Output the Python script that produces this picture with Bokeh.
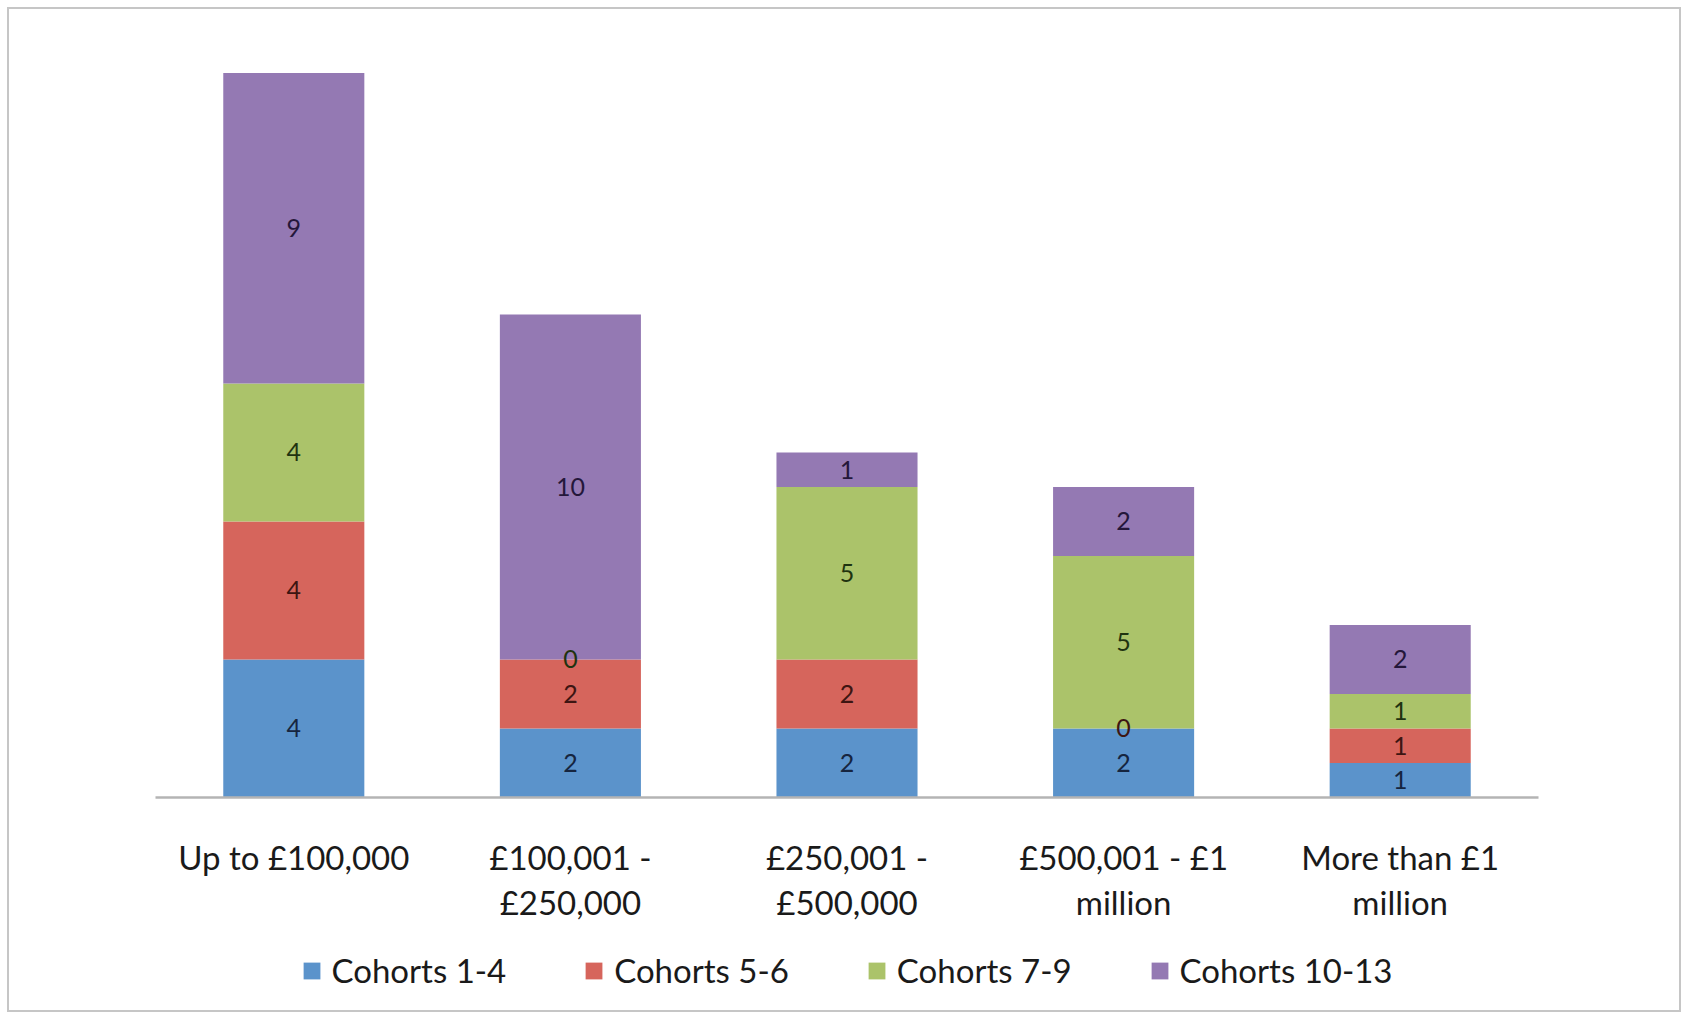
from bokeh.plotting import figure
from bokeh.layouts import column
from bokeh.models import ColumnDataSource, FactorRange, Range1d, Legend, LegendItem
from bokeh.core.properties import value
from bokeh.embed import file_html
from bokeh.resources import INLINE

categories = ["Up to £100,000", "£100,001 -\n£250,000", "£250,001 -\n£500,000",
              "£500,001 - £1\nmillion", "More than £1\nmillion"]
series = ["Cohorts 1-4", "Cohorts 5-6", "Cohorts 7-9", "Cohorts 10-13"]
cohorts_1_4 = [4, 2, 2, 2, 1]
cohorts_5_6 = [4, 2, 2, 0, 1]
cohorts_7_9 = [4, 0, 5, 5, 1]
cohorts_10_13 = [9, 10, 1, 2, 2]

colors = ["#5b93cb", "#d6655c", "#abc36a", "#9479b3"]
label_colors = ["#16253f", "#3d1512", "#1f3310", "#24173a"]
FONT = "Lato"

values = [cohorts_1_4, cohorts_5_6, cohorts_7_9, cohorts_10_13]
data = {"cat": categories}
for name, vals in zip(series, values):
    data[name] = vals
source = ColumnDataSource(data)

# ---- main chart ----
p = figure(x_range=FactorRange(*categories, range_padding=0),
           y_range=Range1d(0, 21.94),
           frame_width=1383, frame_height=757,
           min_border_left=146, min_border_right=141,
           min_border_top=31, min_border_bottom=133,
           output_backend="svg", toolbar_location=None,
           y_axis_location=None)
p.outline_line_color = None
p.grid.visible = False
p.background_fill_color = "white"
p.border_fill_color = "white"

p.vbar_stack(series, x="cat", width=0.51, color=colors, line_color=None, source=source)

# data labels at segment centres
base = [0] * len(categories)
for name, vals, lc in zip(series, values, label_colors):
    mids = [b + v / 2 for b, v in zip(base, vals)]
    lsrc = ColumnDataSource(dict(x=categories, y=mids, t=[str(v) for v in vals]))
    p.text(x="x", y="y", text="t", source=lsrc, text_align="center",
           text_baseline="middle", text_font=value(FONT),
           text_font_size="25px", text_color=lc)
    base = [b + v for b, v in zip(base, vals)]

ax = p.xaxis[0]
ax.axis_line_color = "#b4b4b4"
ax.axis_line_width = 2.5
ax.major_tick_line_color = None
ax.minor_tick_line_color = None
ax.major_label_text_font = FONT
ax.major_label_text_font_size = "33px"
ax.major_label_text_color = "#1a1a1a"
ax.major_label_text_line_height = 1.13
ax.major_label_standoff = 33

# ---- legend strip (its bars lie outside its visible range) ----
p2 = figure(x_range=FactorRange(*categories, range_padding=0),
            y_range=Range1d(-200, -100),
            width=1670, height=80,
            min_border_left=12, min_border_right=0, min_border_top=0, min_border_bottom=0,
            output_backend="svg", toolbar_location=None,
            x_axis_location=None, y_axis_location=None)
p2.outline_line_color = None
p2.grid.visible = False
p2.background_fill_color = "white"
p2.border_fill_color = "white"
lrs = p2.vbar_stack(series, x="cat", width=0.0001, color=colors, line_color=None,
                    source=source)

legend = Legend(items=[LegendItem(label=n, renderers=[r]) for n, r in zip(series, lrs)],
                orientation="horizontal", location="center")
legend.glyph_width = 21
legend.glyph_height = 21
legend.label_standoff = 10
legend.spacing = 77
legend.label_text_font = FONT
legend.label_text_font_size = "33px"
legend.label_text_color = "#1a1a1a"
legend.border_line_color = None
legend.background_fill_alpha = 0
legend.padding = 0
legend.margin = 0
p2.add_layout(legend, "center")

layout = column(p, p2, spacing=0, margin=(7, 0, 0, 7),
                styles={"border": "2px solid #c6c6c6", "background-color": "white"})

open("out.html", "w").write(file_html(layout, INLINE))
